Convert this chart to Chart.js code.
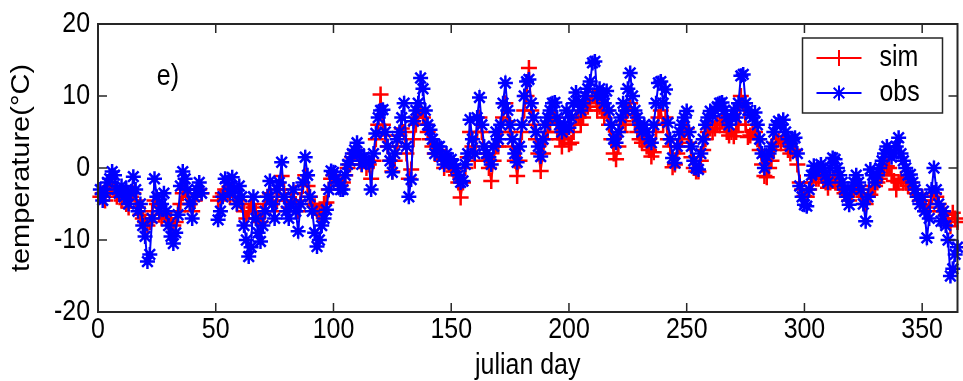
<!DOCTYPE html>
<html>
<head>
<meta charset="utf-8">
<script src="https://cdn.jsdelivr.net/npm/chart.js@4.4.1/dist/chart.umd.min.js"></script>
<style>
  html, body { margin: 0; padding: 0; background: #fff; overflow: hidden; }
  #wrap { position: absolute; left: 0; top: 0; width: 968px; height: 381px; }
</style>
</head>
<body>
<div id="wrap"><canvas id="tempChart"></canvas></div>
<script>
//////// Data ///////////////////

const startDay = 1;

// simulated daily temperature (day 1 .. 365), null = no data
const simTemp = [
  -4, -3.5, -4.5, -3, -3, -2.5, -3, -4, -3.5, -4.5,
  -4, -5, -5.5, -4, -3.5, -4.5, -5.5, -6.5, -7, -7.5,
  -8, -7.5, -6, -4.5, -5, -6.5, -7, -6, -7, -7.5,
  -7, -8, -7.5, -6, -5, -3.5, -3, -4, -5, -6,
  -4.5, -3.5, -3, -3.5, null, null, null, null, null, null,
  -4.5, -4, -3.5, -3, -3.5, -4, -3, -4, -5, -4.5,
  -5, -6, -7, -6, -5, -5.5, -6, -7, -7.5, -6,
  -5, -4, -3.5, -5, -6, -4.5, -3, -1.1, -3, -4.5,
  -5.5, -4.5, -3.5, -5, -6, -4.5, -2.5, -1, -2.5, -4,
  -5, -5.3, -6, -6.5, -6, -5, -4.8, -3, -1.5, -1,
  -1.5, -2, -2.5, -2, -1, 0, 0.5, 1.5, 2, 2.5,
  1.5, 0.5, 1, 0, 0.5, -1.5, 1, 4, 6, 10.2,
  6, 4.5, 3, 1, -0.5, 1, 3, 4.5, 5.5, 5,
  2, -1.5, -0.2, 4, 6, 7, 8, 7, 6, 5,
  4, 3, 2, 2, 2.5, 1, 0, 1, 0.5, 0,
  -0.5, -1, -2, -4.1, -2, 0, 1.5, 5, 3, 1,
  5, 7, 5, 2, 1, 0, -1.8, 1, 3, 3,
  5, 7, 9, 6.5, 5, 3, 1, -1.1, 1, 5,
  8, 10, 13.9, 8, 6, 4, 2, -0.4, 2, 4,
  5, 6, 7, 7, 5, 4, 3, 4, 5, 3.3,
  3.5, 5, 7, 7, 6, 7, 8, 8.5, 9, 10,
  10, 8, 8.5, 8, 7, 8, 6, 4, 2, 1.2,
  3, 5, 6.5, 6, 8, 9, 7.5, 6, 5, 4,
  3.5, 4, 3, 2.5, 1.6, 2.2, 5, 7, 8, 6,
  7, 4, 3, 0.1, 0.5, 2, 3, 4, 5, 5.5,
  3.5, 1.5, 0, -0.5, -0.5, 1, 2.5, 4, 5, 5.5,
  5, 5.5, 6, 6, 6.5, 6, 5, 4.5, 5, 4.4,
  5, 6, 10, 9, 6, 4.3, 4.5, 5, 5, 4,
  2.5, 0.5, -1.1, -1.3, 0, 1, 2.5, 3.5, 4, 3.5,
  4, 3.5, 2.5, 2, 2.5, 2.5, 0.5, -2, -3, -3.9,
  -4, -3, -2, -1, -1.5, -1.5, -1, -1.5, -2, -2.75,
  -2, -1.5, -1.5, -2, -2.5, -3, -3.5, -4, -4.5, -3.5,
  -3, -2.5, -3, -3.5, -4, -5, -4, -3.7, -2.5, -2.5,
  -2, -1.5, -1, 0, 0.25, 0, -1, -1.8, -3, -2,
  -1.5, -2, -2, -2.5, -2, -3, -3.5, -4, -4.5, -4,
  -4.5, -6, -5.5, -4, -3.5, -4, -5, -6, -6, -6.5,
  -7, -8.1, -6.2, -7, -7.5
];

// observed daily temperature (day 1 .. 365), null = no data
const obsTemp = [
  -3, -4.5, -3.5, -2, -1.5, -0.5, -1, -3, -3.5, -2.5,
  -4, -3, -5, -3.5, -1.2, -3, -6, -5, -8, -9.5,
  -13, -12, -7, -1.5, -4, -6, -5, -3.5, -6, -8,
  -9.5, -10.5, -9, -6.5, -2.5, -0.5, -1.5, -3, -5, -7,
  -4, -3, -2, -3.5, null, null, null, null, null, null,
  -7.2, -6, -4, -1.5, -2, -3.5, -1.3, -3, -5, -2.5,
  -4, -8, -10, -12.3, -11, -4, -7, -9, -10.2, -8,
  -6, -4, -1.8, -5, -7, -3, -2, 0.8, -4, -6,
  -7, -5, -3, -6, -8.8, -5, -2, 1.5, -1, -4,
  -6, -9, -10.9, -10, -8, -7, -5.8, -3, -0.4, -0.6,
  -1.5, -2, -3, -3, -1, 0.5, 1, 2, 2.5, 3.5,
  2, 0.5, 1.5, 0.8, 0.8, -3, 2, 4.8, 7, 8,
  8.1, 5, 3, 1, -0.6, 2, 4, 5, 7, 9,
  3, -4, -1.6, 6.5, 8, 9, 12.5, 11, 8, 6,
  5.3, 4, 2, 3, 3, 1.5, 0.5, 2, 1, 1.2,
  0.5, 0, -1, -2, -1.8, 0.5, 2, 6.7, 4, 2,
  7, 9.8, 6, 3, 2, 1.5, 0.5, 3, 5, 4,
  6, 9, 11.8, 8, 6, 4, 2, 0.8, 3, 6,
  10, 12, 12.3, 9, 7, 5, 3, 1.6, 4, 6,
  7, 8, 9, 9.1, 7, 6, 5, 6, 8, 5.6,
  7, 9, 10.5, 9, 8, 9, 10, 11, 12, 14.6,
  14.8, 10, 11, 10, 9, 10.7, 8, 6, 4, 3.5,
  5, 7, 9, 8, 11, 13.2, 10, 8, 7, 6,
  5, 6, 5, 4, 3.5, 6, 9, 11.8, 12, 9,
  10.9, 6.3, 4, 1.4, 0.7, 3, 5, 6, 7, 7.9,
  5, 3, 1, 0, -0.2, 2, 4, 6, 7, 7.9,
  7.2, 8, 8.5, 9, 9.1, 8, 7, 6, 7, 8,
  7, 9, 12.8, 13, 9, 8, 7.4, 7, 7.7, 6,
  4, 2, 0, 1.6, 2, 3, 5, 6, 6.5, 6,
  6.7, 5, 4, 3, 4, 4.2, 2, -2.5, -4, -5.1,
  -5.3, -3, -1, 0.3, -0.5, -0.2, 0.5, 0, -1, -2,
  0, 1.4, 1.2, 0, -1, -2, -3, -4, -5.1, -3,
  -2, -1, -2, -3, -5, -7.4, -4, -0.2, -1, -2,
  -1, 0, 1, 2, 3, 2.5, 1.5, 2, 3, 4.2,
  2, 1, 0, -1, -0.9, -2, -3, -4, -5, -4,
  -6, -9.7, -7, -3, 0, -3, -5, -7.4, -6, -8,
  -10, -15, -14, -12, -11
];

const xTicks = [0, 50, 100, 150, 200, 250, 300, 350];
const yTicks = [-20, -10, 0, 10, 20];
const seriesNames = ["sim", "obs"];
const xTitle = "julian day";
const yTitle = "temperature(°C)";
const panelLabel = "e)";

const toPoints = (vals) => vals.map((v, i) => ({ x: startDay + i, y: v }));

////////// Text helpers //////////////
// the figure text looks horizontally compressed, so squeeze it a bit
const textFont = "29px 'Liberation Sans', Arial, sans-serif";
const squeeze = 0.86;
const inkColor = "#262626";

const squeezedText = function (ctx, text, x, y, align, baseline) {
  ctx.save();
  ctx.translate(x, y);
  ctx.scale(squeeze, 1);
  ctx.font = textFont;
  ctx.fillStyle = "#000";
  ctx.textAlign = align;
  ctx.textBaseline = baseline;
  ctx.fillText(text, 0, 0);
  ctx.restore();
};

////////// Matlab-style axes //////////////
const matlabAxes = {
  id: "matlabAxes",
  afterDatasetsDraw(chart) {
    const { ctx, chartArea: a, scales } = chart;
    const tick = 9;
    ctx.save();
    ctx.strokeStyle = inkColor;
    ctx.lineWidth = 1.5;
    ctx.beginPath();
    scales.x.ticks.forEach((t) => {
      if (t.value <= scales.x.min || t.value >= scales.x.max) return;
      const px = scales.x.getPixelForValue(t.value);
      ctx.moveTo(px, a.bottom);
      ctx.lineTo(px, a.bottom - tick);
      ctx.moveTo(px, a.top);
      ctx.lineTo(px, a.top + tick);
    });
    scales.y.ticks.forEach((t) => {
      if (t.value <= scales.y.min || t.value >= scales.y.max) return;
      const py = scales.y.getPixelForValue(t.value);
      ctx.moveTo(a.left, py);
      ctx.lineTo(a.left + tick, py);
      ctx.moveTo(a.right, py);
      ctx.lineTo(a.right - tick, py);
    });
    ctx.stroke();
    ctx.lineWidth = 2;
    ctx.strokeRect(a.left, a.top, a.right - a.left, a.bottom - a.top);
    ctx.restore();
  },
  afterDraw(chart) {
    const { ctx, chartArea: a, scales } = chart;

    // tick labels
    scales.x.ticks.forEach((t) => {
      squeezedText(ctx, String(t.value), scales.x.getPixelForValue(t.value), a.bottom + 18, "center", "middle");
    });
    scales.y.ticks.forEach((t) => {
      squeezedText(ctx, String(t.value), a.left - 8, scales.y.getPixelForValue(t.value), "right", "middle");
    });

    // axis titles
    squeezedText(ctx, xTitle, (a.left + a.right) / 2, a.bottom + 54, "center", "middle");
    ctx.save();
    ctx.translate(22, (a.top + a.bottom) / 2);
    ctx.rotate(-Math.PI / 2);
    ctx.scale(1, squeeze);
    ctx.font = textFont;
    ctx.fillStyle = "#000";
    ctx.textAlign = "center";
    ctx.textBaseline = "middle";
    ctx.fillText(yTitle, 0, 0);
    ctx.restore();

    // panel label
    squeezedText(ctx, panelLabel, scales.x.getPixelForValue(25), scales.y.getPixelForValue(12.6), "left", "middle");

    // legend box
    const lw = 140, lh = 75;
    const lx = a.right - 155, ly = a.top + 14;
    ctx.save();
    ctx.fillStyle = "#fff";
    ctx.fillRect(lx, ly, lw, lh);
    ctx.strokeStyle = inkColor;
    ctx.lineWidth = 1.5;
    ctx.strokeRect(lx, ly, lw, lh);
    chart.data.datasets.forEach((ds, i) => {
      const rowY = ly + 20 + i * 35;
      ctx.strokeStyle = ds.borderColor;
      ctx.lineWidth = 2;
      ctx.beginPath();
      ctx.moveTo(lx + 14, rowY);
      ctx.lineTo(lx + 59, rowY);
      ctx.stroke();
      ctx.lineWidth = 2;
      ctx.fillStyle = ds.borderColor;
      Chart.helpers.drawPoint(ctx, { pointStyle: ds.pointStyle, radius: ds.pointRadius, borderWidth: 2, rotation: 0 }, lx + 36.5, rowY);
      squeezedText(ctx, ds.label, lx + 77, rowY, "left", "middle");
    });
    ctx.restore();
  },
};

////////// Chart //////////////
const ctx = document.getElementById("tempChart");
const tempChart = new Chart(ctx, {
  type: "line",
  data: {
    datasets: [
      {
        label: seriesNames[0],
        data: toPoints(simTemp),
        borderColor: "rgb(255, 0, 0)",
        backgroundColor: "rgb(255, 0, 0)",
        borderWidth: 2,
        pointStyle: "cross",
        pointRadius: 8,
        pointBorderWidth: 2.5,
        order: 1,
        clip: 12,
      },
      {
        label: seriesNames[1],
        data: toPoints(obsTemp),
        borderColor: "rgb(0, 0, 255)",
        backgroundColor: "rgb(0, 0, 255)",
        borderWidth: 2,
        pointStyle: "star",
        pointRadius: 7.5,
        pointBorderWidth: 2.5,
        order: 0,
        clip: 12,
      },
    ],
  },
  options: {
    responsive: true,
    maintainAspectRatio: false,
    animation: false,
    layout: { padding: { top: 24, right: 2, left: 0, bottom: 0 } },
    scales: {
      x: {
        type: "linear",
        min: 0,
        max: 365,
        afterBuildTicks: (scale) => { scale.ticks = xTicks.map((v) => ({ value: v })); },
        afterFit: (scale) => { scale.height = 69; },
        ticks: { display: false },
        grid: { display: false },
        border: { display: false },
      },
      y: {
        min: -20,
        max: 20,
        afterBuildTicks: (scale) => { scale.ticks = yTicks.map((v) => ({ value: v })); },
        afterFit: (scale) => { scale.width = 98; },
        ticks: { display: false },
        grid: { display: false },
        border: { display: false },
      },
    },
    plugins: {
      legend: { display: false },
      tooltip: { enabled: false },
    },
  },
  plugins: [matlabAxes],
});
</script>
</body>
</html>
